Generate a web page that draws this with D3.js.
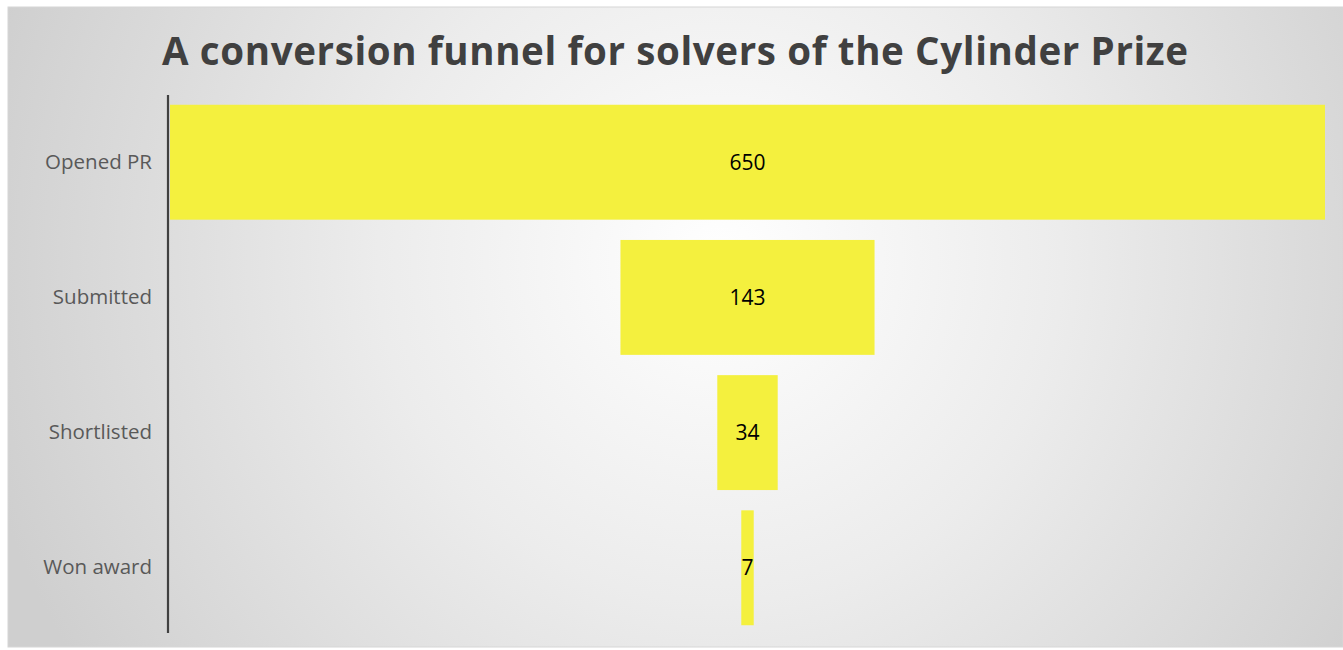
<!DOCTYPE html>
<html>
<head>
<meta charset="utf-8">
<script src="https://cdn.jsdelivr.net/npm/d3@7"></script>
<style>
  html, body { margin: 0; padding: 0; background: #ffffff; }
  svg { display: block; }
</style>
</head>
<body>
<svg id="chart" width="1343" height="650"></svg>
<script>
// Funnel stages and their counts
const stages = ["Opened PR", "Submitted", "Shortlisted", "Won award"];
const counts = [650, 143, 34, 7];
const title = "A conversion funnel for solvers of the Cylinder Prize";

const frame = { x: 8, y: 7, w: 1335, h: 640 };
const plot = { left: 170, right: 1325, top: 98, bottom: 632 };

const svg = d3.select("#chart");

// Soft radial backdrop
const defs = svg.append("defs");
const grad = defs.append("radialGradient")
  .attr("id", "bg").attr("gradientUnits", "userSpaceOnUse")
  .attr("cx", 720).attr("cy", 260).attr("r", 760);
grad.append("stop").attr("offset", "0%").attr("stop-color", "#ffffff");
grad.append("stop").attr("offset", "45%").attr("stop-color", "#ececec");
grad.append("stop").attr("offset", "100%").attr("stop-color", "#cfcfcf");

svg.append("rect")
  .attr("x", frame.x).attr("y", frame.y)
  .attr("width", frame.w).attr("height", frame.h)
  .attr("fill", "url(#bg)")
  .attr("stroke", "#d6d6d6").attr("stroke-width", 1);

// Scales
const y = d3.scaleBand()
  .domain(stages)
  .range([plot.top, plot.bottom])
  .paddingInner(0.15)
  .paddingOuter(0.05);

const width = d3.scaleLinear()
  .domain([0, d3.max(counts)])
  .range([0, plot.right - plot.left]);

const cx = (plot.left + plot.right) / 2;

const data = stages.map((s, i) => ({ stage: s, value: counts[i] }));

// Centered funnel bars
svg.append("g").selectAll("rect")
  .data(data)
  .join("rect")
  .attr("x", d => cx - width(d.value) / 2)
  .attr("y", d => y(d.stage))
  .attr("width", d => width(d.value))
  .attr("height", y.bandwidth())
  .attr("fill", "#f4f03e");

// Value labels
svg.append("g").selectAll("text")
  .data(data)
  .join("text")
  .attr("x", cx)
  .attr("y", d => y(d.stage) + y.bandwidth() / 2)
  .attr("dy", "0.35em")
  .attr("text-anchor", "middle")
  .attr("font-family", "'Open Sans', sans-serif")
  .attr("font-size", 21)
  .attr("fill", "#000000")
  .text(d => d.value);

// Category axis
const axis = svg.append("g")
  .attr("transform", `translate(${plot.left - 2},0)`)
  .call(d3.axisLeft(y).tickSize(0).tickPadding(16));
axis.select(".domain")
  .attr("d", `M0,${plot.top - 3}V${plot.bottom + 1}`)
  .attr("stroke", "#404040").attr("stroke-width", 2.2);
axis.selectAll(".tick text")
  .attr("font-family", "'Open Sans', sans-serif")
  .attr("font-size", 20.5)
  .attr("fill", "#595959");

// Title
svg.append("text")
  .attr("x", 675).attr("y", 65)
  .attr("text-anchor", "middle")
  .attr("font-family", "'Open Sans', sans-serif")
  .attr("font-weight", "bold")
  .attr("font-size", 38.5)
  .attr("textLength", 1026)
  .attr("lengthAdjust", "spacing")
  .attr("fill", "#404040")
  .text(title);
</script>
</body>
</html>
